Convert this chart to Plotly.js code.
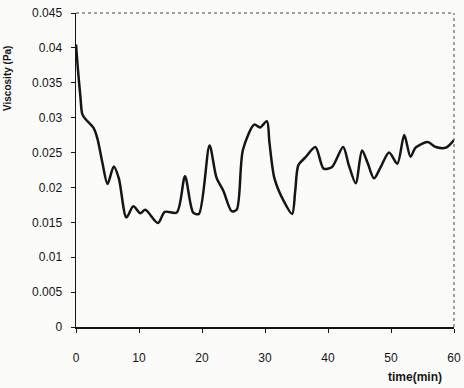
<!DOCTYPE html>
<html>
<head>
<meta charset="utf-8">
<script src="https://cdn.plot.ly/plotly-3.0.1.min.js"></script>
<style>
  html, body { margin: 0; padding: 0; background: #fbfbfa; }
  #chart { width: 464px; height: 388px; }
</style>
</head>
<body>
<div id="chart"></div>
<script>
// Viscosity readings over the run (minutes, Pa)
const timeMin = [0, 0.3, 0.7, 1.0, 1.5, 2.8, 3.4, 4.2, 5.0, 6.0, 6.8, 8.0, 9.1, 10.2, 11.0,
  13.0, 14.1, 16.0, 17.3, 18.6, 19.5, 21.2, 22.3, 23.4, 24.7, 25.5, 26.5, 28.3, 29.2,
  30.3, 30.7, 31.5, 33.0, 34.3, 34.8, 35.3, 36.4, 38.0, 39.3, 40.6, 42.4, 43.3, 44.4,
  45.4, 46.3, 47.3, 48.3, 49.7, 51.0, 52.1, 53.1, 53.9, 55.8, 57.1, 58.7, 60.0];
const viscosity = [0.0405, 0.037, 0.033, 0.0305, 0.0298, 0.0285, 0.027, 0.0235, 0.0205, 0.023,
  0.0213, 0.0157, 0.0173, 0.0163, 0.0168, 0.0149, 0.0165, 0.0164, 0.0216, 0.0164, 0.0162,
  0.026, 0.0214, 0.0195, 0.0166, 0.0168, 0.0254, 0.029, 0.0286, 0.0295, 0.0265, 0.0213,
  0.018, 0.0162, 0.0195, 0.0232, 0.0243, 0.0258, 0.0227, 0.0229, 0.0258, 0.0232, 0.0206,
  0.0253, 0.0235, 0.0213, 0.0228, 0.025, 0.0234, 0.0275, 0.0244, 0.0257, 0.0265, 0.0258,
  0.0257, 0.0268];

const xTicks = [0, 10, 20, 30, 40, 50, 60];
const yTicks = [0, 0.005, 0.01, 0.015, 0.02, 0.025, 0.03, 0.035, 0.04, 0.045];
const yTickText = ['0', '0.005', '0.01', '0.015', '0.02', '0.025', '0.03', '0.035', '0.04', '0.045'];

const ink = '#151515';
const fontFamily = 'Liberation Sans, Arial, sans-serif';
const tickFont = { family: fontFamily, size: 12, color: ink };

const trace = {
  x: timeMin,
  y: viscosity,
  type: 'scatter',
  mode: 'lines',
  line: { color: ink, width: 2.5, shape: 'spline', smoothing: 0.8 },
  hoverinfo: 'skip'
};

const layout = {
  width: 464,
  height: 388,
  paper_bgcolor: '#fbfbfa',
  plot_bgcolor: '#fbfbfa',
  margin: { l: 76, r: 10, t: 13, b: 61 },
  showlegend: false,
  xaxis: {
    range: [0, 60],
    tickvals: xTicks,
    ticks: 'outside', ticklen: 4, tickcolor: ink, tickwidth: 1,
    ticklabelstandoff: 15,
    showgrid: false, zeroline: false,
    showline: true, linecolor: ink, linewidth: 1.5,
    tickfont: tickFont
  },
  yaxis: {
    range: [0, 0.045],
    tickvals: yTicks, ticktext: yTickText,
    ticks: 'outside', ticklen: 4, tickcolor: ink, tickwidth: 1,
    ticklabelstandoff: 6,
    showgrid: false, zeroline: false,
    showline: true, linecolor: ink, linewidth: 1.5,
    tickfont: tickFont
  },
  shapes: [
    { type: 'line', xref: 'paper', yref: 'paper', x0: 0, x1: 1, y0: 1, y1: 1,
      line: { color: '#444', width: 1, dash: 'dot' } },
    { type: 'line', xref: 'paper', yref: 'paper', x0: 1, x1: 1, y0: 0, y1: 1,
      line: { color: '#444', width: 1, dash: 'dot' } }
  ],
  annotations: [
    { text: '<b>time(min)</b>', xref: 'paper', yref: 'paper', x: 0.897, y: -0.159,
      xanchor: 'center', yanchor: 'middle', showarrow: false,
      font: { family: fontFamily, size: 12, color: ink } },
    { text: '<b>Viscosity (Pa)</b>', xref: 'paper', yref: 'paper', x: -0.18, y: 0.793,
      xanchor: 'center', yanchor: 'middle', showarrow: false, textangle: -90,
      font: { family: fontFamily, size: 10, color: ink } }
  ]
};

Plotly.newPlot('chart', [trace], layout, { displayModeBar: false, staticPlot: true });
</script>
</body>
</html>
